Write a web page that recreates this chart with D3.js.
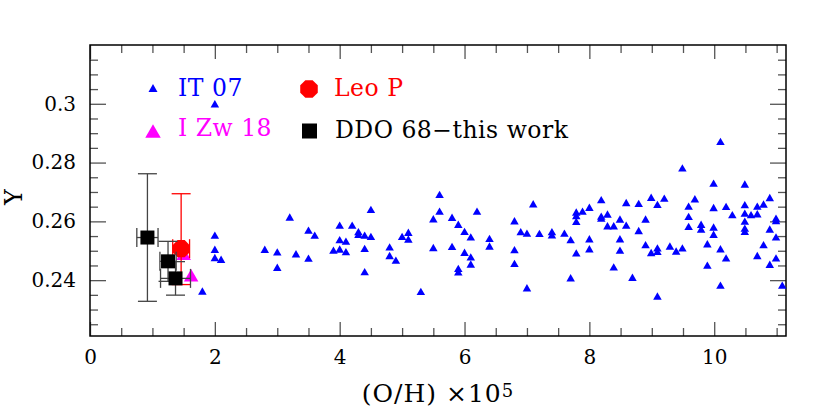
<!DOCTYPE html>
<html>
<head>
  <meta charset="utf-8">
  <script src="https://d3js.org/d3.v7.min.js"></script>
  <style>
    body { margin: 0; background: #fff; }
    svg text { font-family: "DejaVu Serif", serif; }
  </style>
</head>
<body>
  <div id="chart"></div>

  <script>
    // IT 07 sample: O/H (x 1e5) and Y
    var it07OH = [2.00, 1.80, 2.00, 2.00, 2.00, 2.10, 2.80, 3.00, 3.00, 3.20, 3.30, 3.50, 3.60, 3.50, 3.90,
      4.00, 4.00, 4.00, 4.10, 4.10, 4.20, 4.30, 4.30, 4.40, 4.50, 4.50, 4.40, 4.40, 4.80, 4.80, 4.90,
      5.00, 5.10, 5.10, 5.30, 5.50, 5.50, 5.60, 5.60, 5.80, 5.80, 5.90, 5.90, 5.90, 6.00, 6.00, 6.10,
      6.10, 6.10, 6.20, 6.40, 6.40, 6.80, 6.80, 6.80, 6.90, 7.00, 7.00, 7.10, 7.20, 7.40, 7.40, 7.60,
      7.70, 7.70, 7.79, 7.79, 7.79, 7.79, 7.89, 8.00, 8.00, 8.00, 8.19, 8.19, 8.19, 8.29, 8.29, 8.39,
      8.39, 8.49, 8.49, 8.49, 8.59, 8.59, 8.69, 8.79, 8.79, 8.90, 8.90, 8.99, 8.99, 9.09, 9.09, 9.09,
      9.09, 9.20, 9.29, 9.39, 9.49, 9.49, 9.59, 9.59, 9.59, 9.69, 9.79, 9.79, 9.89, 9.89, 9.99, 9.99,
      9.99, 9.99, 10.10, 10.10, 10.10, 10.19, 10.19, 10.29, 10.49, 10.49, 10.49, 10.49, 10.49, 10.49,
      10.59, 10.69, 10.69, 10.69, 10.79, 10.79, 10.89, 10.89, 10.89, 10.99, 10.99, 10.99, 10.99, 11.09];
    var it07Y = [0.3000, 0.2363, 0.2553, 0.2505, 0.2477, 0.2471, 0.2505, 0.2496, 0.2444, 0.2615, 0.2490, 0.2570, 0.2553, 0.2475, 0.2502,
      0.2587, 0.2538, 0.2506, 0.2533, 0.2497, 0.2587, 0.2565, 0.2556, 0.2553, 0.2549, 0.2641, 0.2508, 0.2429, 0.2513, 0.2484, 0.2468,
      0.2549, 0.2563, 0.2540, 0.2362, 0.2609, 0.2511, 0.2692, 0.2635, 0.2614, 0.2515, 0.2590, 0.2440, 0.2428, 0.2566, 0.2495, 0.2547,
      0.2479, 0.2455, 0.2635, 0.2542, 0.2516, 0.2602, 0.2504, 0.2457, 0.2565, 0.2560, 0.2374, 0.2660, 0.2559, 0.2565, 0.2554, 0.2560,
      0.2538, 0.2408, 0.2632, 0.2620, 0.2600, 0.2493, 0.2635, 0.2648, 0.2541, 0.2507, 0.2674, 0.2618, 0.2611, 0.2625, 0.2585, 0.2585,
      0.2445, 0.2608, 0.2541, 0.2502, 0.2664, 0.2587, 0.2410, 0.2661, 0.2569, 0.2608, 0.2521, 0.2682, 0.2494, 0.2658, 0.2510, 0.2498,
      0.2346, 0.2679, 0.2516, 0.2499, 0.2782, 0.2510, 0.2652, 0.2617, 0.2583, 0.2677, 0.2590, 0.2574, 0.2524, 0.2451, 0.2730, 0.2647,
      0.2581, 0.2556, 0.2872, 0.2507, 0.2383, 0.2651, 0.2476, 0.2623, 0.2727, 0.2657, 0.2628, 0.2601, 0.2577, 0.2566,
      0.2623, 0.2652, 0.2626, 0.2484, 0.2659, 0.2521, 0.2681, 0.2574, 0.2454, 0.2611, 0.2603, 0.2547, 0.2476, 0.2383];

    // I Zw 18
    var izw18OH = [1.50, 1.62];
    var izw18Y = [0.2490, 0.2417];

    // Leo P
    var leoPOH = [1.46];
    var leoPOHErr = [0.135];
    var leoPY = [0.2507];
    var leoPYErrHi = [0.0187];
    var leoPYErrLo = [0.0122];

    // DDO 68 - this work
    var ddo68OH = [0.92, 1.25, 1.37];
    var ddo68OHErr = [0.17, 0.13, 0.24];
    var ddo68Y = [0.2545, 0.2464, 0.2406];
    var ddo68YErr = [0.0217, 0.0068, 0.0057];

    var xTickValues = [0, 2, 4, 6, 8, 10];
    var xTickLabels = ["0", "2", "4", "6", "8", "10"];
    var yTickValues = [0.24, 0.26, 0.28, 0.30];
    var yTickLabels = ["0.24", "0.26", "0.28", "0.3"];

    var legendLabels = ["IT 07", "I Zw 18", "Leo P", "DDO 68\u2212this work"];

    var W = 830, H = 417;
    var margin = { top: 45, right: 44, bottom: 81, left: 90 };
    var width = W - margin.left - margin.right;
    var height = H - margin.top - margin.bottom;

    var root = d3.select("#chart").append("svg")
      .attr("width", W)
      .attr("height", H);

    var svg = root.append("g")
      .attr("transform", "translate(" + margin.left + "," + margin.top + ")");

    var x = d3.scaleLinear().domain([0, 11.15]).range([0, width]);
    var y = d3.scaleLinear().domain([0.221, 0.32]).range([height, 0]);

    var xMinor = d3.range(0, 23).map(function(k) { return k / 2; }).filter(function(v) { return v % 2 !== 0; });
    var yMinor = d3.range(45, 64).filter(function(k) { return k % 4 !== 0; }).map(function(k) { return k / 200; });

    // axes, ticks pointing inward on all four sides
    function addAxis(axis, transform) {
      var g = svg.append("g").attr("transform", transform).call(axis);
      g.select(".domain").remove();
      g.selectAll(".tick line").attr("stroke", "#555").attr("stroke-width", 1.3);
      g.selectAll("text").style("font-size", "20px").attr("fill", "#000");
      return g;
    }

    addAxis(d3.axisBottom(x).tickValues(xTickValues).tickSize(-14).tickPadding(14)
      .tickFormat(function(d, i) { return xTickLabels[i]; }), "translate(0," + height + ")");
    addAxis(d3.axisBottom(x).tickValues(xMinor).tickSize(-8).tickFormat(""), "translate(0," + height + ")");
    addAxis(d3.axisTop(x).tickValues(xTickValues).tickSize(-14).tickFormat(""), "translate(0,0)");
    addAxis(d3.axisTop(x).tickValues(xMinor).tickSize(-8).tickFormat(""), "translate(0,0)");

    addAxis(d3.axisLeft(y).tickValues(yTickValues).tickSize(-16).tickPadding(14)
      .tickFormat(function(d, i) { return yTickLabels[i]; }), "translate(0,0)");
    addAxis(d3.axisLeft(y).tickValues(yMinor).tickSize(-8).tickFormat(""), "translate(0,0)");
    addAxis(d3.axisRight(y).tickValues(yTickValues).tickSize(-16).tickFormat(""), "translate(" + width + ",0)");
    addAxis(d3.axisRight(y).tickValues(yMinor).tickSize(-8).tickFormat(""), "translate(" + width + ",0)");

    svg.append("rect")
      .attr("width", width)
      .attr("height", height)
      .attr("fill", "none")
      .attr("stroke", "#000")
      .attr("stroke-width", 1.5);

    // axis titles
    root.append("text")
      .attr("transform", "translate(21.5,197) rotate(-90)")
      .attr("text-anchor", "middle")
      .style("font-size", "24px")
      .text("Y");

    var xt = root.append("text")
      .attr("x", margin.left + width / 2)
      .attr("y", 401.5)
      .attr("text-anchor", "middle")
      .style("font-size", "25px")
      .style("letter-spacing", "1px");
    xt.append("tspan").text("(O/H) \u00d710");
    xt.append("tspan").attr("dy", -5).style("font-size", "18px").text("5");

    // marker shapes
    function triPath(w) {
      var h = w * Math.sqrt(3) / 2;
      return "M0," + (-h / 2) + "L" + (w / 2) + "," + (h / 2) + "L" + (-w / 2) + "," + (h / 2) + "Z";
    }
    function octPath(r) {
      var pts = d3.range(8).map(function(k) {
        var a = Math.PI / 8 + k * Math.PI / 4;
        return [r * Math.cos(a), r * Math.sin(a)];
      });
      return d3.line()(pts) + "Z";
    }

    // IT 07
    svg.selectAll(".it07")
      .data(it07OH)
      .enter()
      .append("path")
      .attr("class", "it07")
      .attr("d", triPath(8.5))
      .attr("transform", function(d, i) { return "translate(" + x(d) + "," + y(it07Y[i]) + ")"; })
      .attr("fill", "#0000ff");

    // I Zw 18
    svg.selectAll(".izw18")
      .data(izw18OH)
      .enter()
      .append("path")
      .attr("class", "izw18")
      .attr("d", triPath(14.5))
      .attr("transform", function(d, i) { return "translate(" + x(d) + "," + y(izw18Y[i]) + ")"; })
      .attr("fill", "#ff00ff");

    // error bars helper
    function errBars(g, cx, cy, x0, x1, y0, y1, color) {
      var cap = 9.5;
      var seg = [
        [cx, y0, cx, y1], [cx - cap, y0, cx + cap, y0], [cx - cap, y1, cx + cap, y1],
        [x0, cy, x1, cy], [x0, cy - cap, x0, cy + cap], [x1, cy - cap, x1, cy + cap]
      ];
      seg.forEach(function(s) {
        g.append("line")
          .attr("x1", s[0]).attr("y1", s[1]).attr("x2", s[2]).attr("y2", s[3])
          .attr("stroke", color).attr("stroke-width", 1.3);
      });
    }

    // Leo P
    var leoG = svg.append("g").attr("class", "leoP");
    leoPOH.forEach(function(d, i) {
      errBars(leoG, x(d), y(leoPY[i]), x(d - leoPOHErr[i]), x(d + leoPOHErr[i]),
        y(leoPY[i] + leoPYErrHi[i]), y(leoPY[i] - leoPYErrLo[i]), "#ff0000");
    });
    leoG.selectAll(".pt")
      .data(leoPOH)
      .enter()
      .append("path")
      .attr("d", octPath(9.3))
      .attr("transform", function(d, i) { return "translate(" + x(d) + "," + y(leoPY[i]) + ")"; })
      .attr("fill", "#ff0000");

    // DDO 68
    var ddoG = svg.append("g").attr("class", "ddo68");
    ddo68OH.forEach(function(d, i) {
      errBars(ddoG, x(d), y(ddo68Y[i]), x(d - ddo68OHErr[i]), x(d + ddo68OHErr[i]),
        y(ddo68Y[i] + ddo68YErr[i]), y(ddo68Y[i] - ddo68YErr[i]), "#444");
    });
    ddoG.selectAll(".pt")
      .data(ddo68OH)
      .enter()
      .append("rect")
      .attr("x", function(d) { return x(d) - 7; })
      .attr("y", function(d, i) { return y(ddo68Y[i]) - 7; })
      .attr("width", 14)
      .attr("height", 14)
      .attr("fill", "#000");

    // legend
    var legend = root.append("g").attr("class", "legend");
    legend.append("path").attr("d", triPath(9)).attr("transform", "translate(153,88)").attr("fill", "#0000ff");
    legend.append("path").attr("d", triPath(15.5)).attr("transform", "translate(153,131)").attr("fill", "#ff00ff");
    legend.append("path").attr("d", octPath(9.5)).attr("transform", "translate(309,89)").attr("fill", "#ff0000");
    legend.append("rect").attr("x", 302).attr("y", 123.5).attr("width", 15).attr("height", 15).attr("fill", "#000");

    var legendPos = [[178, 96, "#0000ff"], [178, 136, "#ff00ff"], [334, 96, "#ff0000"], [335, 137.5, "#000"]];
    legend.selectAll(".lt")
      .data(legendLabels)
      .enter()
      .append("text")
      .attr("x", function(d, i) { return legendPos[i][0]; })
      .attr("y", function(d, i) { return legendPos[i][1]; })
      .attr("fill", function(d, i) { return legendPos[i][2]; })
      .style("font-size", "23.5px")
      .style("letter-spacing", "0.5px")
      .text(function(d) { return d; });
  </script>
</body>
</html>
